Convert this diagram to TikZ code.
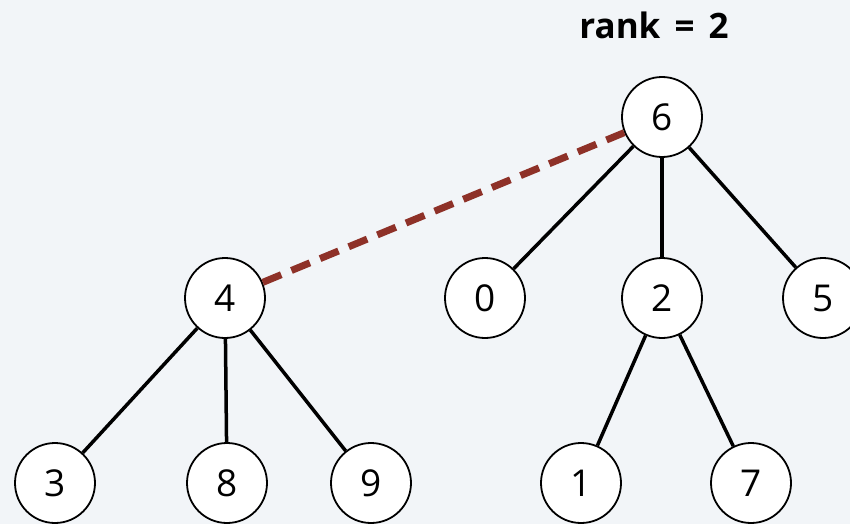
\documentclass[tikz,border=0pt]{standalone}
\usepackage{fontspec}
\setmainfont{Open Sans}
\definecolor{bgc}{HTML}{F2F5F8}
\definecolor{dashc}{HTML}{8E3128}
\begin{document}
\begin{tikzpicture}[x=1pt,y=-1pt,
  vert/.style={circle,draw=black,fill=white,line width=1.8pt,minimum size=80pt,inner sep=0pt,font=\fontsize{37}{40}\selectfont},
  edge/.style={line width=3.5pt,black},
  link/.style={line width=7pt,dashc,dash pattern=on 20pt off 11pt}]
\fill[bgc] (0,0) rectangle (850,524);
\useasboundingbox (0,0) rectangle (850,524);
\node[font=\bfseries\fontsize{35}{40}\selectfont] (title) at (654,25) {rank\hspace{5pt} =\hspace{5pt} 2};
\node[vert] (n6) at (662,117) {6};
\node[vert] (n4) at (225,298) {4};
\node[vert] (n0) at (485,298) {0};
\node[vert] (n2) at (662,298) {2};
\node[vert] (n5) at (823,298) {5};
\node[vert] (n3) at (55,483) {3};
\node[vert] (n8) at (227,483) {8};
\node[vert] (n9) at (371,483) {9};
\node[vert] (n1) at (581,483) {1};
\node[vert] (n7) at (751,483) {7};
\draw[edge] (n6) -- (n0);
\draw[edge] (n6) -- (n2);
\draw[edge] (n6) -- (n5);
\draw[edge] (n2) -- (n1);
\draw[edge] (n2) -- (n7);
\draw[edge] (n4) -- (n3);
\draw[edge] (n4) -- (n8);
\draw[edge] (n4) -- (n9);
\draw[link] (n4) -- (n6);
\end{tikzpicture}
\end{document}
